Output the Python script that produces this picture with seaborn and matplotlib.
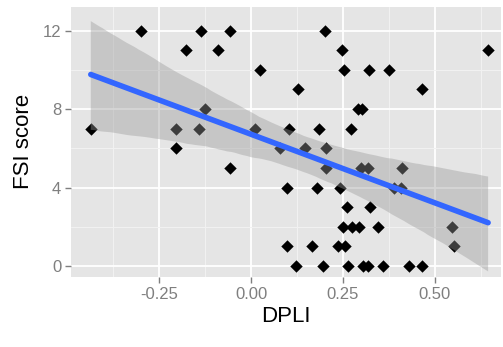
import numpy as np
import pandas as pd
import matplotlib
matplotlib.use('Agg')
import matplotlib.pyplot as plt
from matplotlib.ticker import MultipleLocator
import seaborn as sns

# values
dpli = [-0.436, -0.298, -0.203, -0.203, -0.176, -0.135, -0.141, -0.125, -0.089, -0.057,
        -0.057, 0.024, 0.012, 0.079, 0.099, 0.098, 0.103, 0.121, 0.127, 0.146,
        0.167, 0.180, 0.186, 0.196, 0.200, 0.203, 0.205, 0.236, 0.241, 0.247,
        0.254, 0.250, 0.255, 0.261, 0.265, 0.272, 0.276, 0.290, 0.302, 0.295,
        0.300, 0.304, 0.317, 0.322, 0.317, 0.324, 0.345, 0.358, 0.374, 0.390,
        0.408, 0.411, 0.431, 0.466, 0.466, 0.548, 0.553, 0.645]
fsi = [7, 12, 7, 6, 11, 12, 7, 8, 11, 12,
       5, 10, 7, 6, 4, 1, 7, 0, 9, 6,
       1, 4, 7, 0, 12, 6, 5, 1, 4, 11,
       10, 2, 1, 3, 0, 7, 2, 8, 8, 2,
       5, 0, 0, 10, 5, 3, 2, 0, 10, 4,
       4, 5, 0, 9, 0, 2, 1, 11]

x_ticks = [-0.25, 0.0, 0.25, 0.5]
x_labels = ['-0.25', '0.00', '0.25', '0.50']
y_ticks = [0, 4, 8, 12]

df = pd.DataFrame({'DPLI': dpli, 'FSI score': fsi})

sns.set_theme(style='darkgrid')
plt.rcParams['font.family'] = ['Liberation Sans', 'DejaVu Sans']

fig, ax = plt.subplots(1, 1, figsize=(5.03, 3.47), dpi=100)
fig.subplots_adjust(left=0.141, right=0.996, top=0.98, bottom=0.202)
ax.set_facecolor('#E5E5E5')

sns.regplot(data=df, x='DPLI', y='FSI score', ax=ax, ci=95, n_boot=2000, seed=3,
            truncate=True, marker='D',
            scatter_kws={'s': 40, 'color': 'black', 'linewidths': 0, 'alpha': 1},
            line_kws={'color': '#3366FF', 'linewidth': 4})

# ggplot-like grey ribbon on top of the points
for coll in ax.collections[1:]:
    coll.set_alpha(None)
    coll.set_facecolor((0.6, 0.6, 0.6, 0.4))
    coll.set_edgecolor('none')

ax.set_xlim(-0.49, 0.68)
ax.set_ylim(-0.55, 13.2)
ax.set_xticks(x_ticks)
ax.set_xticklabels(x_labels)
ax.set_yticks(y_ticks)
ax.xaxis.set_minor_locator(MultipleLocator(0.125))
ax.yaxis.set_minor_locator(MultipleLocator(2))
ax.grid(which='major', color='white', linewidth=1.3)
ax.grid(which='minor', color='#F2F2F2', linewidth=0.7)
ax.set_axisbelow(True)
for s in ax.spines.values():
    s.set_visible(False)

ax.tick_params(which='major', length=4, width=1, color='#7F7F7F', labelcolor='#7F7F7F',
               labelsize=12, pad=3, bottom=True, left=True)
ax.tick_params(which='minor', length=0)

ax.set_xlabel('DPLI', fontsize=16, color='black', labelpad=3)
ax.set_ylabel('FSI score', fontsize=16, color='black', labelpad=6)

fig.savefig('out.png', dpi=100)
plt.close()
